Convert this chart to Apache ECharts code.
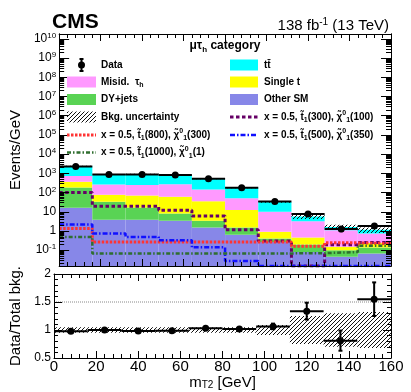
<!DOCTYPE html>
<html>
<head>
<meta charset="utf-8">
<title>mT2 - mu tau_h category</title>
<script src="https://cdn.jsdelivr.net/npm/echarts@6.0.0/dist/echarts.min.js"></script>
<style>
  html, body { margin: 0; padding: 0; background: #fff; }
  #chart { width: 411px; height: 392px; }
</style>
</head>
<body>
<div id="chart"></div>
<script>
// mT2 bins [GeV]
var binEdges = [0, 16, 32, 48, 64, 80, 96, 112, 128, 144, 160];

// upper panel, events / GeV
var dataValues = [2300, 860, 880, 830, 530, 180, 34, 7.6, 1.26, 1.8];
var otherSM    = [16, 3.8, 3.8, 3.4, 1.5, 0.63, 0.27, 0.08, 0.045, 0.068];
var dyJets     = [169, 29, 13, 4.7, 1.9, 0.87, 0.14, 0.12, 0.055, 0.07];
var singleTop  = [175, 45, 53, 52, 31.6, 10.8, 0.49, 0.26, 0.05, 0.10];
var misidTau   = [360, 182, 180, 210, 110, 37.7, 9.1, 2.74, 0.95, 0.5];
var ttbar      = [1630, 620, 660, 580, 375, 128, 22, 2.4, 0.5, 0.42];

// signal points (0 = nothing in that bin)
var sig300_100  = [100, 19.5, 19.5, 12, 6, 1.15, 0.3, 0, 0.19, 0.25];
var sig800_300  = [1.35, 0.27, 0.27, 0.27, 0.27, 0.27, 0.27, 0.16, 0.24, 0.22];
var sig500_350  = [2.2, 0.74, 0.49, 0.33, 0.14, 0.027, 0, 0, 0, 0];
var sig1000_1   = [0.49, 0.068, 0.068, 0.068, 0.068, 0.068, 0.068, 0.07, 0.08, 0.17];

// lower panel
var ratioValues = [0.977, 1.0, 0.983, 0.988, 1.03, 1.017, 1.064, 1.337, 0.81, 1.55];
var ratioErrors = [0.01, 0.01, 0.01, 0.01, 0.015, 0.025, 0.05, 0.15, 0.18, 0.3];
var bkgUnc      = [0.05, 0.05, 0.05, 0.05, 0.05, 0.05, 0.09, 0.25, 0.3, 0.32];
var ratioRefLines = [1.5];

var yMajorTicks = [1e-1, 1, 10, 1e2, 1e3, 1e4, 1e5, 1e6, 1e7, 1e8, 1e9, 1e10];

var FONT = '"Liberation Sans", Arial, Helvetica, sans-serif';
var Y_MIN = 0.015, Y_MAX = 1.8e10;

var C_TT = '#00ffff', C_MISID = '#ff99ff', C_ST = '#ffff00', C_DY = '#59d354', C_OTHER = '#8787e8';
var SIG_STYLES = {
    s300: {color: '#660066', width: 3, type: [3.5, 2.5]},
    s800: {color: '#ff3333', width: 3, type: [2.5, 1.5]},
    s500: {color: '#1010ff', width: 2.5, type: [5, 2, 1.5, 2]},
    s1000: {color: '#2f6e2f', width: 2.5, type: [4, 2, 1.5, 2]}
};

function clampY(v) { return Math.min(Math.max(v, Y_MIN), Y_MAX); }

var yMinorTicks = [];
for (var n = -2; n <= 10; n++) {
    for (var k = 2; k <= 9; k++) {
        var mv = k * Math.pow(10, n);
        if (mv > Y_MIN && mv < Y_MAX) yMinorTicks.push(mv);
    }
}

function makeHatch() {
    var c = document.createElement('canvas');
    c.width = 4; c.height = 4;
    var ctx = c.getContext('2d');
    ctx.strokeStyle = '#111';
    ctx.lineWidth = 1;
    ctx.beginPath();
    ctx.moveTo(0, 4); ctx.lineTo(4, 0);
    ctx.moveTo(-1, 1); ctx.lineTo(1, -1);
    ctx.moveTo(3, 5); ctx.lineTo(5, 3);
    ctx.stroke();
    return c;
}
var hatchFill = {image: makeHatch(), repeat: 'repeat'};

function renderBox(params, api) {
    var p0 = api.coord([api.value(0), api.value(3)]);
    var p1 = api.coord([api.value(1), api.value(2)]);
    return {
        type: 'rect',
        shape: {x: p0[0], y: p0[1], width: p1[0] - p0[0], height: p1[1] - p0[1]},
        style: {fill: api.visual('color')}
    };
}

function renderHatch(params, api) {
    var p0 = api.coord([api.value(0), api.value(3)]);
    var p1 = api.coord([api.value(1), api.value(2)]);
    return {
        type: 'rect',
        shape: {x: p0[0], y: p0[1], width: p1[0] - p0[0], height: p1[1] - p0[1]},
        style: {fill: hatchFill}
    };
}

function renderPoint(isLog) {
    return function (params, api) {
        var x0 = api.value(0), x1 = api.value(1), y = api.value(2), e = api.value(3);
        var xc = (x0 + x1) / 2;
        var lo = isLog ? clampY(y - e) : y - e;
        var pl = api.coord([x0, y]), pr = api.coord([x1, y]);
        var pt = api.coord([xc, y + e]), pb = api.coord([xc, lo]);
        var st = {stroke: '#000', lineWidth: 2};
        return {
            type: 'group',
            children: [
                {type: 'line', shape: {x1: pl[0], y1: pl[1], x2: pr[0], y2: pr[1]}, style: st},
                {type: 'line', shape: {x1: pt[0], y1: pt[1], x2: pb[0], y2: pb[1]}, style: st},
                {type: 'line', shape: {x1: pt[0] - 2, y1: pt[1], x2: pt[0] + 2, y2: pt[1]}, style: st},
                {type: 'line', shape: {x1: pb[0] - 2, y1: pb[1], x2: pb[0] + 2, y2: pb[1]}, style: st},
                {type: 'circle', shape: {cx: pl[0] + (pr[0] - pl[0]) / 2, cy: pl[1], r: 3.5}, style: {fill: '#000'}}
            ]
        };
    };
}

// stacked backgrounds, bottom to top
var layers = [
    {name: 'Other SM', values: otherSM, color: C_OTHER},
    {name: 'DY+jets', values: dyJets, color: C_DY},
    {name: 'Single t', values: singleTop, color: C_ST},
    {name: 'Misid', values: misidTau, color: C_MISID},
    {name: 'ttbar', values: ttbar, color: C_TT}
];
var nBins = binEdges.length - 1;
var cum = [];
for (var i = 0; i < nBins; i++) cum.push(0);

var series = [];
layers.forEach(function (layer) {
    var items = [];
    for (var i = 0; i < nBins; i++) {
        var lo = cum[i], hi = cum[i] + layer.values[i];
        items.push([binEdges[i], binEdges[i + 1], clampY(lo), clampY(hi)]);
        cum[i] = hi;
    }
    series.push({
        type: 'custom', name: layer.name, xAxisIndex: 0, yAxisIndex: 0,
        renderItem: renderBox, data: items, encode: {x: [0, 1], y: [2, 3]},
        itemStyle: {color: layer.color}, z: 2, silent: true, clip: true
    });
});

// bkg uncertainty on the total
var uncItems = [];
for (var i = 0; i < nBins; i++) {
    uncItems.push([binEdges[i], binEdges[i + 1], clampY(cum[i] * (1 - bkgUnc[i])), clampY(cum[i] * (1 + bkgUnc[i]))]);
}
series.push({
    type: 'custom', xAxisIndex: 0, yAxisIndex: 0, renderItem: renderHatch,
    data: uncItems, encode: {x: [0, 1], y: [2, 3]}, z: 3, silent: true, clip: true
});

function stepData(values) {
    var pts = values.map(function (v, i) { return [binEdges[i], clampY(v)]; });
    pts.push([binEdges[nBins], clampY(values[nBins - 1])]);
    return pts;
}
[[sig300_100, SIG_STYLES.s300], [sig800_300, SIG_STYLES.s800],
 [sig500_350, SIG_STYLES.s500], [sig1000_1, SIG_STYLES.s1000]].forEach(function (s) {
    series.push({
        type: 'line', xAxisIndex: 0, yAxisIndex: 0, step: 'end', symbol: 'none',
        data: stepData(s[0]), z: 4, silent: true, clip: true,
        itemStyle: {color: s[1].color},
        lineStyle: {color: s[1].color, width: s[1].width, type: s[1].type}
    });
});

// data points
var dataItems = [];
for (var i = 0; i < nBins; i++) {
    dataItems.push([binEdges[i], binEdges[i + 1], dataValues[i], dataValues[i] * ratioErrors[i] / ratioValues[i]]);
}
series.push({
    type: 'custom', xAxisIndex: 0, yAxisIndex: 0, renderItem: renderPoint(true),
    data: dataItems, encode: {x: [0, 1], y: 2}, z: 5, silent: true, clip: true
});

// ratio panel
var ratioBand = [], ratioItems = [];
for (var i = 0; i < nBins; i++) {
    ratioBand.push([binEdges[i], binEdges[i + 1], 1 - bkgUnc[i], 1 + bkgUnc[i]]);
    ratioItems.push([binEdges[i], binEdges[i + 1], ratioValues[i], ratioErrors[i]]);
}
ratioRefLines.forEach(function (lvl) {
    series.push({
        type: 'line', xAxisIndex: 2, yAxisIndex: 4, symbol: 'none', silent: true,
        data: [[binEdges[0], lvl], [binEdges[nBins], lvl]], z: 2,
        lineStyle: {color: '#888', width: 1, type: [1, 1]}
    });
});
series.push({
    type: 'custom', xAxisIndex: 2, yAxisIndex: 4, renderItem: renderHatch,
    data: ratioBand, encode: {x: [0, 1], y: [2, 3]}, z: 3, silent: true, clip: true
});
series.push({
    type: 'custom', xAxisIndex: 2, yAxisIndex: 4, renderItem: renderPoint(false),
    data: ratioItems, encode: {x: [0, 1], y: 2}, z: 5, silent: true, clip: true
});

// axes
function xAxisOpt(gridIndex, position, labels) {
    return {
        type: 'value', gridIndex: gridIndex, position: position, min: 0, max: 160, interval: 20, z: 10,
        axisLine: {show: true, onZero: false, lineStyle: {color: '#000', width: 1}},
        axisTick: {show: true, inside: true, length: 7, lineStyle: {color: '#000'}},
        minorTick: {show: true, splitNumber: 5, length: 4, lineStyle: {color: '#000'}},
        splitLine: {show: false},
        axisLabel: {show: labels, fontSize: 15, fontFamily: FONT, color: '#000', margin: 1},
        name: labels ? '{m|m}{s|T2}{m| [GeV]}' : '',
        nameLocation: 'middle', nameGap: 9,
        nameTextStyle: {
            rich: {
                m: {fontSize: 15, fontFamily: FONT, color: '#000', lineHeight: 16},
                s: {fontSize: 10, fontFamily: FONT, color: '#000', lineHeight: 10, verticalAlign: 'bottom'}
            }
        }
    };
}

function logAxis(position, ticks, len, labels, name) {
    return {
        type: 'log', gridIndex: 0, position: position, min: Y_MIN, max: Y_MAX, z: 10,
        axisLine: {show: true, lineStyle: {color: '#000', width: 1}},
        axisTick: {show: true, inside: true, length: len, customValues: ticks, lineStyle: {color: '#000'}},
        minorTick: {show: false},
        splitLine: {show: false},
        axisLabel: {
            show: labels, customValues: ticks, margin: 3,
            formatter: function (v) {
                var p = Math.round(Math.log10(v));
                if (p === 0) return '{b|1}';
                if (p === 1) return '{b|10}';
                return '{b|10}{s|' + p + '}';
            },
            rich: {
                b: {fontSize: 12, fontFamily: FONT, color: '#000', lineHeight: 14},
                s: {fontSize: 8, fontFamily: FONT, color: '#000', lineHeight: 8, verticalAlign: 'top'}
            }
        },
        name: name || '', nameLocation: 'middle', nameGap: 31,
        nameTextStyle: {fontSize: 15, fontFamily: FONT, color: '#000'}
    };
}

function ratioAxis(position, labels) {
    return {
        type: 'value', gridIndex: 1, position: position, min: 0.5, max: 2, interval: 0.5, z: 10,
        axisLine: {show: true, onZero: false, lineStyle: {color: '#000', width: 1}},
        axisTick: {show: true, inside: true, length: 8, lineStyle: {color: '#000'}},
        minorTick: {show: true, splitNumber: 5, length: 4, lineStyle: {color: '#000'}},
        splitLine: {show: false},
        axisLabel: {show: labels, fontSize: 12, fontFamily: FONT, color: '#000', margin: 3},
        name: labels ? 'Data/Total bkg.' : '', nameLocation: 'middle', nameGap: 31,
        nameTextStyle: {fontSize: 15, fontFamily: FONT, color: '#000'}
    };
}

// legend and titles
var legendRich = {
    t: {fontSize: 10, fontWeight: 'bold', fontFamily: FONT, color: '#000', lineHeight: 14},
    sub: {fontSize: 7, fontWeight: 'bold', fontFamily: FONT, color: '#000', lineHeight: 8, verticalAlign: 'bottom'},
    sup: {fontSize: 7, fontWeight: 'bold', fontFamily: FONT, color: '#000', lineHeight: 8, verticalAlign: 'top'}
};
function sigLabel(mStop, mLsp) {
    return '{t|x = 0.5, t\u0303}{sub|1}{t|(' + mStop + '), \u03c7\u0303}{sup|0}{sub|1}{t|(' + mLsp + ')}';
}
var legendRows = [65, 82, 99.5, 117, 135, 152.5];
var legendLeft = [
    {kind: 'data', text: '{t|Data}'},
    {kind: 'box', color: C_MISID, text: '{t|Misid.  \u03c4}{sub|h}'},
    {kind: 'box', color: C_DY, text: '{t|DY+jets}'},
    {kind: 'hatch', text: '{t|Bkg. uncertainty}'},
    {kind: 'line', style: SIG_STYLES.s800, text: sigLabel(800, 300)},
    {kind: 'line', style: SIG_STYLES.s1000, text: sigLabel(1000, 1)}
];
var legendRight = [
    {kind: 'box', color: C_TT, text: '{t|tt\u0304}'},
    {kind: 'box', color: C_ST, text: '{t|Single t}'},
    {kind: 'box', color: C_OTHER, text: '{t|Other SM}'},
    {kind: 'line', style: SIG_STYLES.s300, text: sigLabel(300, 100)},
    {kind: 'line', style: SIG_STYLES.s500, text: sigLabel(500, 350)}
];

var graphics = [];
function addLegend(entries, x0, w, tx) {
    entries.forEach(function (e, idx) {
        var y = legendRows[idx];
        if (e.kind === 'data') {
            var xc = x0 + w / 2;
            graphics.push({type: 'line', z: 20, shape: {x1: xc, y1: y - 6, x2: xc, y2: y + 6}, style: {stroke: '#000', lineWidth: 2}});
            graphics.push({type: 'line', z: 20, shape: {x1: xc - 2, y1: y - 6, x2: xc + 2, y2: y - 6}, style: {stroke: '#000', lineWidth: 2}});
            graphics.push({type: 'line', z: 20, shape: {x1: xc - 2, y1: y + 6, x2: xc + 2, y2: y + 6}, style: {stroke: '#000', lineWidth: 2}});
            graphics.push({type: 'circle', z: 20, shape: {cx: xc, cy: y, r: 3.5}, style: {fill: '#000'}});
        } else if (e.kind === 'box') {
            graphics.push({type: 'rect', z: 20, shape: {x: x0, y: y - 5.5, width: w, height: 11}, style: {fill: e.color}});
        } else if (e.kind === 'hatch') {
            graphics.push({type: 'rect', z: 20, shape: {x: x0, y: y - 5.5, width: w, height: 11}, style: {fill: hatchFill}});
        } else {
            graphics.push({type: 'line', z: 20, shape: {x1: x0, y1: y, x2: x0 + w, y2: y},
                style: {stroke: e.style.color, lineWidth: e.style.width, lineDash: e.style.type}});
        }
        graphics.push({type: 'text', z: 20, x: tx, y: y,
            style: {text: e.text, rich: legendRich, align: 'left', verticalAlign: 'middle'}});
    });
}
addLegend(legendLeft, 67, 29, 101);
addLegend(legendRight, 230, 28, 264);

graphics.push({type: 'text', z: 20, x: 52, y: 22,
    style: {text: 'CMS', font: 'bold 21px ' + FONT, fill: '#000', align: 'left', verticalAlign: 'middle'}});
graphics.push({type: 'text', z: 20, x: 389, y: 25.5,
    style: {text: '{a|138 fb}{s|-1}{a| (13 TeV)}', align: 'right', verticalAlign: 'middle',
        rich: {
            a: {fontSize: 15, fontFamily: FONT, color: '#000', lineHeight: 17},
            s: {fontSize: 10, fontFamily: FONT, color: '#000', lineHeight: 10, verticalAlign: 'top'}
        }}});
graphics.push({type: 'text', z: 20, x: 225, y: 46,
    style: {text: '{t|\u03bc\u03c4}{sub|h}{t| category}', align: 'center', verticalAlign: 'middle',
        rich: {
            t: {fontSize: 12, fontWeight: 'bold', fontFamily: FONT, color: '#000', lineHeight: 15},
            sub: {fontSize: 8, fontWeight: 'bold', fontFamily: FONT, color: '#000', lineHeight: 8, verticalAlign: 'bottom'}
        }}});

var myChart = echarts.init(document.getElementById('chart'), null, {renderer: 'canvas'});
var chartOption = {
    animation: false,
    backgroundColor: '#fff',
    textStyle: {fontFamily: FONT},
    grid: [
        {left: 51, top: 34, width: 340, height: 232},
        {left: 51, top: 274, width: 340, height: 84}
    ],
    xAxis: [
        xAxisOpt(0, 'bottom', false),
        xAxisOpt(0, 'top', false),
        xAxisOpt(1, 'bottom', true),
        xAxisOpt(1, 'top', false)
    ],
    yAxis: [
        logAxis('left', yMajorTicks, 10, true, 'Events/GeV'),
        logAxis('left', yMinorTicks, 5, false),
        logAxis('right', yMajorTicks, 10, false),
        logAxis('right', yMinorTicks, 5, false),
        ratioAxis('left', true),
        ratioAxis('right', false)
    ],
    series: series,
    graphic: graphics
};
myChart.setOption(chartOption);
</script>
</body>
</html>
